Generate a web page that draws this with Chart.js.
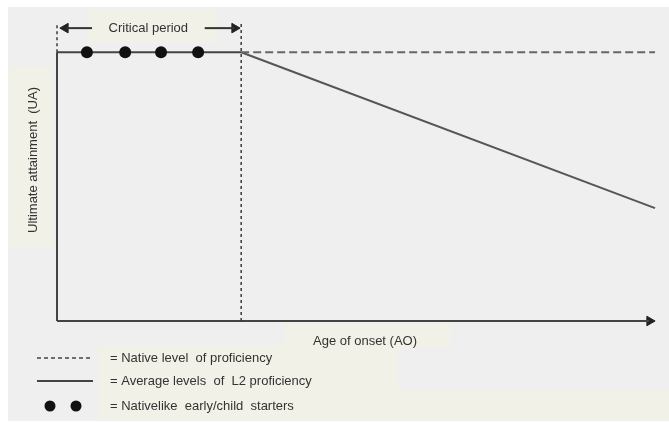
<!DOCTYPE html>
<html>
<head>
<meta charset="utf-8">
<script src="https://cdn.jsdelivr.net/npm/chart.js@4/dist/chart.umd.min.js"></script>
<style>
  html, body { margin: 0; padding: 0; background: #ffffff; }
  #wrap { width: 669px; height: 422px; }
</style>
</head>
<body>
<div id="wrap"><canvas id="c" width="669" height="422"></canvas></div>
<script>
// ---- data (conceptual model: age of onset vs ultimate attainment) ----
const xRange = [0, 100];            // age of onset axis (schematic units)
const yRange = [0, 115];            // ultimate attainment axis (schematic units)
const nativeLevel = 100;            // native level of proficiency
const criticalEnd = 30.8;           // end of critical period (AO)
const declineEnd = [100, 42];       // average L2 level at the right edge
const starterAges = [5, 11.4, 17.4, 23.6];  // nativelike early/child starters
const bracketLevel = 109;           // height of the "Critical period" arrows
const bracketTop = 111;             // top of the dotted period markers
const leftArrow = [0.5, 5.85];      // left arrow (tip, tail)
const rightArrow = [24.7, 30.6];    // right arrow (tail, tip)

const labels = {
  period: 'Critical period',
  yTitle: 'Ultimate attainment  (UA)',
  xTitle: 'Age of onset (AO)',
  legend: ['= Native level  of proficiency', '= Average levels  of  L2 proficiency', '= Nativelike  early/child  starters']
};

const FONT = '13px "Liberation Sans", Arial, sans-serif';
const TXT = '#333333';

const lineDs = (pts, color, width, dash) => ({
  data: pts, showLine: true, borderColor: color, borderWidth: width,
  borderDash: dash || [], pointRadius: 0, fill: false, tension: 0
});
const arrowHead = (x, y, rot) => ({
  data: [{x, y}], showLine: false, pointStyle: 'triangle', pointRotation: rot,
  pointRadius: 5.5, pointBackgroundColor: '#222', pointBorderColor: '#222', pointBorderWidth: 1
});

const bgPlugin = {
  id: 'bg',
  beforeDraw(chart) {
    const ctx = chart.ctx;
    ctx.save();
    ctx.fillStyle = '#ffffff';
    ctx.fillRect(0, 0, 669, 422);
    ctx.fillStyle = '#efefef';
    ctx.fillRect(8, 7, 661, 414);
    ctx.fillStyle = '#f1f1e8';
    ctx.fillRect(89, 10, 128, 33);     // critical period label box
    ctx.fillRect(9, 67, 43, 180);      // y title box
    ctx.fillRect(285, 323, 165, 25);   // x title box
    ctx.fillRect(98, 346, 300, 74);    // legend box
    ctx.fillRect(398, 390, 271, 30);
    ctx.restore();
  }
};

const textPlugin = {
  id: 'texts',
  afterDraw(chart) {
    const ctx = chart.ctx;
    ctx.save();
    ctx.font = FONT;
    ctx.fillStyle = TXT;
    ctx.textBaseline = 'middle';
    ctx.textAlign = 'center';
    const xs = chart.scales.x, ys = chart.scales.y;
    const cx = (xs.getPixelForValue(leftArrow[1]) + xs.getPixelForValue(rightArrow[0])) / 2;
    ctx.fillText(labels.period, cx, ys.getPixelForValue(bracketLevel));
    ctx.fillText(labels.xTitle, 365, 341);
    ctx.save();
    ctx.translate(33, 160);
    ctx.rotate(-Math.PI / 2);
    ctx.fillText(labels.yTitle, 0, 0);
    ctx.restore();
    // legend
    ctx.textAlign = 'left';
    const ly = [358, 381, 406];
    labels.legend.forEach((t, i) => ctx.fillText(t, 110, ly[i]));
    ctx.strokeStyle = '#444';
    ctx.lineWidth = 1.5;
    ctx.setLineDash([4, 3]);
    ctx.beginPath(); ctx.moveTo(37, ly[0]); ctx.lineTo(93, ly[0]); ctx.stroke();
    ctx.setLineDash([]);
    ctx.lineWidth = 2;
    ctx.beginPath(); ctx.moveTo(37, ly[1]); ctx.lineTo(93, ly[1]); ctx.stroke();
    ctx.fillStyle = '#111';
    [50, 76].forEach(x => { ctx.beginPath(); ctx.arc(x, ly[2], 5.5, 0, Math.PI * 2); ctx.fill(); });
    ctx.restore();
  }
};

new Chart(document.getElementById('c'), {
  type: 'scatter',
  data: {
    datasets: [
      {
        data: starterAges.map(a => ({x: a, y: nativeLevel})), showLine: false,
        pointRadius: 6, pointBackgroundColor: '#111', pointBorderColor: '#111', pointBorderWidth: 0
      },
      lineDs([{x: criticalEnd, y: 0}, {x: criticalEnd, y: bracketTop}], '#3a3a3a', 1.5, [3, 3]),
      lineDs([{x: 0, y: nativeLevel}, {x: 0, y: bracketTop}], '#3a3a3a', 1.5, [3, 3]),
      lineDs([{x: criticalEnd, y: nativeLevel}, {x: xRange[1], y: nativeLevel}], '#666', 2, [8, 4]),
      lineDs([{x: criticalEnd, y: nativeLevel}, {x: declineEnd[0], y: declineEnd[1]}], '#555', 2),
      lineDs([{x: 0, y: 0}, {x: 0, y: nativeLevel}], '#444', 2),
      lineDs([{x: 0, y: 0}, {x: xRange[1] - 1, y: 0}], '#444', 2),
      lineDs([{x: 0, y: nativeLevel}, {x: criticalEnd, y: nativeLevel}], '#444', 2),
      lineDs([{x: leftArrow[0] + 1, y: bracketLevel}, {x: leftArrow[1], y: bracketLevel}], '#333', 2),
      lineDs([{x: rightArrow[0], y: bracketLevel}, {x: rightArrow[1] - 1, y: bracketLevel}], '#333', 2),
      arrowHead(leftArrow[0] + 0.9, bracketLevel, 270),
      arrowHead(rightArrow[1] - 0.9, bracketLevel, 90),
      arrowHead(xRange[1] - 0.9, 0, 90)
    ]
  },
  options: {
    responsive: false,
    animation: false,
    devicePixelRatio: 1,
    layout: { padding: { left: 57, right: 14, top: 12, bottom: 101 } },
    scales: {
      x: { type: 'linear', min: xRange[0], max: xRange[1], display: false },
      y: { type: 'linear', min: yRange[0], max: yRange[1], display: false }
    },
    plugins: { legend: { display: false }, tooltip: { enabled: false } },
    elements: { line: { borderCapStyle: 'butt' } },
    clip: false
  },
  plugins: [bgPlugin, textPlugin]
});
</script>
</body>
</html>
